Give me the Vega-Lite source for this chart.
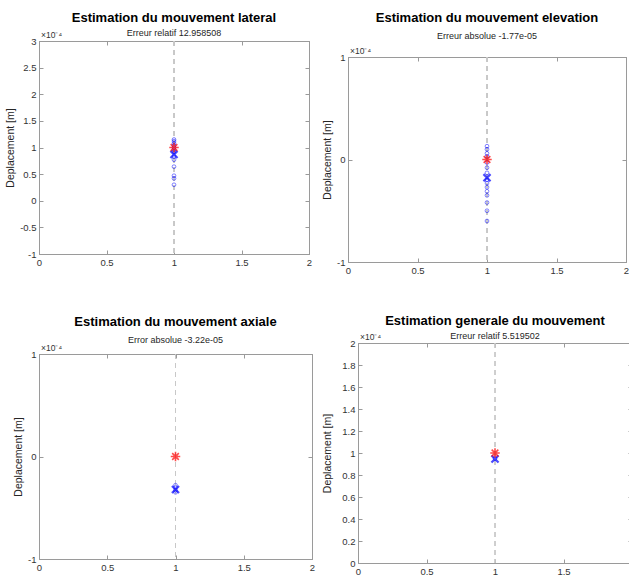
{
  "$schema": "https://vega.github.io/schema/vega-lite/v6.json",
  "background": "white",
  "padding": {"left": 5, "top": -21, "right": 0, "bottom": 0},
  "config": {
    "font": "Liberation Sans",
    "view": {"stroke": "#9a9a9a", "strokeWidth": 1},
    "title": {"fontSize": 13, "fontWeight": "bold", "color": "#000000", "subtitleFontSize": 9, "subtitleColor": "#262626", "subtitlePadding": 4, "anchor": "middle", "offset": 5},
    "axis": {"grid": false, "domainColor": "#9a9a9a", "tickColor": "#9a9a9a", "tickSize": -4, "labelPadding": 7, "labelFontSize": 9.5, "labelColor": "#333333", "titleFontSize": 10.5, "titleFontWeight": "normal", "titleColor": "#262626", "labelFlush": false, "labelOverlap": false}
  },
  "datasets": {
    "vide": [],
    "lateral": [
      {"type": "mesure", "x": 1, "deplacement": 1.15},
      {"type": "mesure", "x": 1, "deplacement": 1.12},
      {"type": "mesure", "x": 1, "deplacement": 1.08},
      {"type": "mesure", "x": 1, "deplacement": 1.04},
      {"type": "mesure", "x": 1, "deplacement": 1.0},
      {"type": "mesure", "x": 1, "deplacement": 0.96},
      {"type": "mesure", "x": 1, "deplacement": 0.92},
      {"type": "mesure", "x": 1, "deplacement": 0.83},
      {"type": "mesure", "x": 1, "deplacement": 0.77},
      {"type": "mesure", "x": 1, "deplacement": 0.64},
      {"type": "mesure", "x": 1, "deplacement": 0.47},
      {"type": "mesure", "x": 1, "deplacement": 0.42},
      {"type": "mesure", "x": 1, "deplacement": 0.3},
      {"type": "estimation", "x": 1, "deplacement": 0.8704},
      {"type": "reel", "x": 1, "deplacement": 1.0}
    ],
    "elevation": [
      {"type": "mesure", "x": 1, "deplacement": 0.13},
      {"type": "mesure", "x": 1, "deplacement": 0.1},
      {"type": "mesure", "x": 1, "deplacement": 0.06},
      {"type": "mesure", "x": 1, "deplacement": 0.03},
      {"type": "mesure", "x": 1, "deplacement": -0.03},
      {"type": "mesure", "x": 1, "deplacement": -0.08},
      {"type": "mesure", "x": 1, "deplacement": -0.13},
      {"type": "mesure", "x": 1, "deplacement": -0.2},
      {"type": "mesure", "x": 1, "deplacement": -0.23},
      {"type": "mesure", "x": 1, "deplacement": -0.27},
      {"type": "mesure", "x": 1, "deplacement": -0.31},
      {"type": "mesure", "x": 1, "deplacement": -0.35},
      {"type": "mesure", "x": 1, "deplacement": -0.42},
      {"type": "mesure", "x": 1, "deplacement": -0.5},
      {"type": "mesure", "x": 1, "deplacement": -0.6},
      {"type": "estimation", "x": 1, "deplacement": -0.177},
      {"type": "reel", "x": 1, "deplacement": 0.0}
    ],
    "axiale": [
      {"type": "mesure", "x": 1, "deplacement": -0.28},
      {"type": "mesure", "x": 1, "deplacement": -0.3},
      {"type": "mesure", "x": 1, "deplacement": -0.33},
      {"type": "mesure", "x": 1, "deplacement": -0.35},
      {"type": "estimation", "x": 1, "deplacement": -0.322},
      {"type": "reel", "x": 1, "deplacement": 0.0}
    ],
    "generale": [
      {"type": "mesure", "x": 1, "deplacement": 0.95},
      {"type": "estimation", "x": 1, "deplacement": 0.945},
      {"type": "reel", "x": 1, "deplacement": 1.0}
    ]
  },
  "columns": 2,
  "align": "none",
  "spacing": {"row": 31, "column": 6},
  "concat": [
    {"width": 1, "height": 1, "view": {"stroke": null}, "data": {"name": "vide"}, "mark": {"type": "point", "opacity": 0}, "encoding": {}},
    {"width": 1, "height": 1, "view": {"stroke": null}, "data": {"name": "vide"}, "mark": {"type": "point", "opacity": 0}, "encoding": {}},
    {
      "width": 270, "height": 213,
      "title": {"text": "Estimation du mouvement lateral", "subtitle": "Erreur relatif 12.958508", "dy": 12},
      "data": {"name": "lateral"},
      "resolve": {"axis": {"x": "independent", "y": "independent"}},
      "layer": [
        {"mark": {"type": "rule", "color": "#c8c8c8", "strokeDash": [5, 4], "strokeWidth": 1},
         "encoding": {"x": {"datum": 1, "type": "quantitative", "scale": {"domain": [0, 2]}, "axis": {"values": [0, 0.5, 1, 1.5, 2], "labelExpr": "'' + datum.value", "title": null}}}},
        {"transform": [{"filter": "datum.type == 'mesure'"}],
         "mark": {"type": "point", "shape": "circle", "filled": false, "color": "#0000ff", "size": 14, "strokeWidth": 0.7},
         "encoding": {"x": {"field": "x", "type": "quantitative", "axis": {"orient": "top", "values": [0, 0.5, 1, 1.5, 2], "labels": false, "title": null}},
                      "y": {"field": "deplacement", "type": "quantitative", "scale": {"domain": [-1, 3]}, "axis": {"values": [-1, -0.5, 0, 0.5, 1, 1.5, 2, 2.5, 3], "labelExpr": "'' + datum.value", "title": "Deplacement [m]"}}}},
        {"transform": [{"filter": "datum.type == 'estimation'"}],
         "mark": {"type": "point", "shape": "M-1,-1L1,1M-1,1L1,-1", "filled": false, "color": "#0000ff", "size": 50, "strokeWidth": 2.2},
         "encoding": {"x": {"field": "x", "type": "quantitative", "axis": null}, "y": {"field": "deplacement", "type": "quantitative", "axis": {"orient": "right", "values": [-1, -0.5, 0, 0.5, 1, 1.5, 2, 2.5, 3], "labels": false, "title": null}}}},
        {"transform": [{"filter": "datum.type == 'reel'"}],
         "mark": {"type": "point", "shape": "M-1,0L1,0M0,-1L0,1M-0.7,-0.7L0.7,0.7M-0.7,0.7L0.7,-0.7", "filled": false, "color": "#ff0000", "size": 90, "strokeWidth": 1.6},
         "encoding": {"x": {"field": "x", "type": "quantitative", "axis": null}, "y": {"field": "deplacement", "type": "quantitative", "axis": null}}},
        {"data": {"values": [{"label": "×10⁻⁴"}]},
         "mark": {"type": "text", "align": "left", "baseline": "bottom", "dx": 2, "dy": -1, "fontSize": 8.5, "color": "#333333"},
         "encoding": {"x": {"datum": 0, "type": "quantitative", "axis": null}, "y": {"datum": 3, "type": "quantitative", "axis": null}, "text": {"field": "label"}}}
      ]
    },
    {
      "width": 278, "height": 205,
      "title": {"text": "Estimation du mouvement elevation", "subtitle": "Erreur absolue -1.77e-05", "subtitlePadding": 7, "offset": 6},
      "data": {"name": "elevation"},
      "resolve": {"axis": {"x": "independent", "y": "independent"}},
      "layer": [
        {"mark": {"type": "rule", "color": "#c8c8c8", "strokeDash": [5, 4], "strokeWidth": 1},
         "encoding": {"x": {"datum": 1, "type": "quantitative", "scale": {"domain": [0, 2]}, "axis": {"values": [0, 0.5, 1, 1.5, 2], "labelExpr": "'' + datum.value", "title": null}}}},
        {"transform": [{"filter": "datum.type == 'mesure'"}],
         "mark": {"type": "point", "shape": "circle", "filled": false, "color": "#0000ff", "size": 14, "strokeWidth": 0.7},
         "encoding": {"x": {"field": "x", "type": "quantitative", "axis": {"orient": "top", "values": [0, 0.5, 1, 1.5, 2], "labels": false, "title": null}},
                      "y": {"field": "deplacement", "type": "quantitative", "scale": {"domain": [-1, 1]}, "axis": {"values": [-1, 0, 1], "labelExpr": "'' + datum.value", "title": "Deplacement [m]"}}}},
        {"transform": [{"filter": "datum.type == 'estimation'"}],
         "mark": {"type": "point", "shape": "M-1,-1L1,1M-1,1L1,-1", "filled": false, "color": "#0000ff", "size": 50, "strokeWidth": 2.2},
         "encoding": {"x": {"field": "x", "type": "quantitative", "axis": null}, "y": {"field": "deplacement", "type": "quantitative", "axis": {"orient": "right", "values": [-1, 0, 1], "labels": false, "title": null}}}},
        {"transform": [{"filter": "datum.type == 'reel'"}],
         "mark": {"type": "point", "shape": "M-1,0L1,0M0,-1L0,1M-0.7,-0.7L0.7,0.7M-0.7,0.7L0.7,-0.7", "filled": false, "color": "#ff0000", "size": 90, "strokeWidth": 1.6},
         "encoding": {"x": {"field": "x", "type": "quantitative", "axis": null}, "y": {"field": "deplacement", "type": "quantitative", "axis": null}}},
        {"data": {"values": [{"label": "×10⁻⁴"}]},
         "mark": {"type": "text", "align": "left", "baseline": "bottom", "dx": 2, "dy": -1, "fontSize": 8.5, "color": "#333333"},
         "encoding": {"x": {"datum": 0, "type": "quantitative", "axis": null}, "y": {"datum": 1, "type": "quantitative", "axis": null}, "text": {"field": "label"}}}
      ]
    },
    {
      "width": 273, "height": 205,
      "title": {"text": ["", "Estimation du mouvement axiale"], "lineHeight": 17, "subtitle": "Error absolue  -3.22e-05", "subtitlePadding": 7, "offset": 4, "dy": 5},
      "data": {"name": "axiale"},
      "resolve": {"axis": {"x": "independent", "y": "independent"}},
      "layer": [
        {"mark": {"type": "rule", "color": "#c8c8c8", "strokeDash": [5, 4], "strokeWidth": 1},
         "encoding": {"x": {"datum": 1, "type": "quantitative", "scale": {"domain": [0, 2]}, "axis": {"values": [0, 0.5, 1, 1.5, 2], "labelExpr": "'' + datum.value", "title": null}}}},
        {"transform": [{"filter": "datum.type == 'mesure'"}],
         "mark": {"type": "point", "shape": "circle", "filled": false, "color": "#0000ff", "size": 14, "strokeWidth": 0.7},
         "encoding": {"x": {"field": "x", "type": "quantitative", "axis": {"orient": "top", "values": [0, 0.5, 1, 1.5, 2], "labels": false, "title": null}},
                      "y": {"field": "deplacement", "type": "quantitative", "scale": {"domain": [-1, 1]}, "axis": {"values": [-1, 0, 1], "labelExpr": "'' + datum.value", "title": "Deplacement [m]"}}}},
        {"transform": [{"filter": "datum.type == 'estimation'"}],
         "mark": {"type": "point", "shape": "M-1,-1L1,1M-1,1L1,-1", "filled": false, "color": "#0000ff", "size": 50, "strokeWidth": 2.2},
         "encoding": {"x": {"field": "x", "type": "quantitative", "axis": null}, "y": {"field": "deplacement", "type": "quantitative", "axis": {"orient": "right", "values": [-1, 0, 1], "labels": false, "title": null}}}},
        {"transform": [{"filter": "datum.type == 'reel'"}],
         "mark": {"type": "point", "shape": "M-1,0L1,0M0,-1L0,1M-0.7,-0.7L0.7,0.7M-0.7,0.7L0.7,-0.7", "filled": false, "color": "#ff0000", "size": 90, "strokeWidth": 1.6},
         "encoding": {"x": {"field": "x", "type": "quantitative", "axis": null}, "y": {"field": "deplacement", "type": "quantitative", "axis": null}}},
        {"data": {"values": [{"label": "×10⁻⁴"}]},
         "mark": {"type": "text", "align": "left", "baseline": "bottom", "dx": 2, "dy": -1, "fontSize": 8.5, "color": "#333333"},
         "encoding": {"x": {"datum": 0, "type": "quantitative", "axis": null}, "y": {"datum": 1, "type": "quantitative", "axis": null}, "text": {"field": "label"}}}
      ]
    },
    {
      "width": 274, "height": 220,
      "title": {"text": "Estimation generale du mouvement", "subtitle": "Erreur relatif 5.519502", "offset": -10, "dy": -2},
      "data": {"name": "generale"},
      "resolve": {"axis": {"x": "independent", "y": "independent"}},
      "layer": [
        {"mark": {"type": "rule", "color": "#c8c8c8", "strokeDash": [5, 4], "strokeWidth": 1},
         "encoding": {"x": {"datum": 1, "type": "quantitative", "scale": {"domain": [0, 2]}, "axis": {"values": [0, 0.5, 1, 1.5, 2], "labelExpr": "'' + datum.value", "title": null}}}},
        {"transform": [{"filter": "datum.type == 'mesure'"}],
         "mark": {"type": "point", "shape": "circle", "filled": false, "color": "#0000ff", "size": 14, "strokeWidth": 0.7},
         "encoding": {"x": {"field": "x", "type": "quantitative", "axis": {"orient": "top", "values": [0, 0.5, 1, 1.5, 2], "labels": false, "title": null}},
                      "y": {"field": "deplacement", "type": "quantitative", "scale": {"domain": [0, 2]}, "axis": {"values": [0, 0.2, 0.4, 0.6, 0.8, 1, 1.2, 1.4, 1.6, 1.8, 2], "labelExpr": "'' + datum.value", "title": "Deplacement [m]", "titlePadding": 9}}}},
        {"transform": [{"filter": "datum.type == 'estimation'"}],
         "mark": {"type": "point", "shape": "M-1,-1L1,1M-1,1L1,-1", "filled": false, "color": "#0000ff", "size": 50, "strokeWidth": 2.2},
         "encoding": {"x": {"field": "x", "type": "quantitative", "axis": null}, "y": {"field": "deplacement", "type": "quantitative", "axis": {"orient": "right", "values": [0, 0.2, 0.4, 0.6, 0.8, 1, 1.2, 1.4, 1.6, 1.8, 2], "labels": false, "title": null}}}},
        {"transform": [{"filter": "datum.type == 'reel'"}],
         "mark": {"type": "point", "shape": "M-1,0L1,0M0,-1L0,1M-0.7,-0.7L0.7,0.7M-0.7,0.7L0.7,-0.7", "filled": false, "color": "#ff0000", "size": 90, "strokeWidth": 1.6},
         "encoding": {"x": {"field": "x", "type": "quantitative", "axis": null}, "y": {"field": "deplacement", "type": "quantitative", "axis": null}}},
        {"data": {"values": [{"label": "×10⁻⁴"}]},
         "mark": {"type": "text", "align": "left", "baseline": "bottom", "dx": 2, "dy": -1, "fontSize": 8.5, "color": "#333333"},
         "encoding": {"x": {"datum": 0, "type": "quantitative", "axis": null}, "y": {"datum": 2, "type": "quantitative", "axis": null}, "text": {"field": "label"}}}
      ]
    }
  ]
}
